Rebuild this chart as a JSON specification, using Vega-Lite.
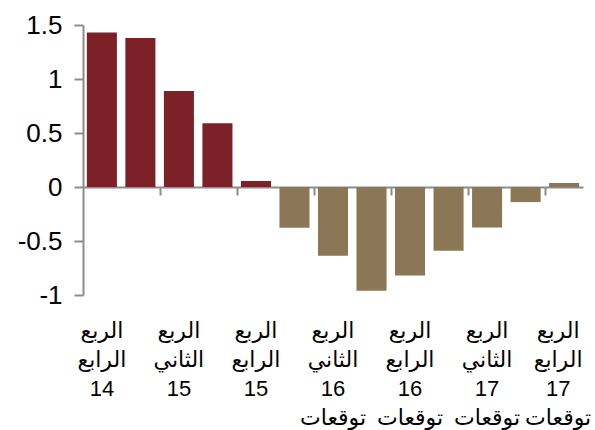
{
  "$schema": "https://vega.github.io/schema/vega-lite/v6.json",
  "width": 500,
  "height": 270,
  "autosize": "none",
  "padding": {"left": 83, "top": 25, "right": 12, "bottom": 135},
  "background": "white",
  "config": {
    "view": {"stroke": null},
    "font": "Liberation Sans, Arial, DejaVu Sans, sans-serif"
  },
  "data": {
    "values": [
      {"period": "الربع|الرابع|14", "value": 1.43, "type": "actual"},
      {"period": "الربع|الأول|15", "value": 1.38, "type": "actual"},
      {"period": "الربع|الثاني|15", "value": 0.89, "type": "actual"},
      {"period": "الربع|الثالث|15", "value": 0.59, "type": "actual"},
      {"period": "الربع|الرابع|15", "value": 0.056, "type": "actual"},
      {"period": "الربع|الأول|16|توقعات", "value": -0.377, "type": "forecast"},
      {"period": "الربع|الثاني|16|توقعات", "value": -0.636, "type": "forecast"},
      {"period": "الربع|الثالث|16|توقعات", "value": -0.96, "type": "forecast"},
      {"period": "الربع|الرابع|16|توقعات", "value": -0.82, "type": "forecast"},
      {"period": "الربع|الأول|17|توقعات", "value": -0.59, "type": "forecast"},
      {"period": "الربع|الثاني|17|توقعات", "value": -0.375, "type": "forecast"},
      {"period": "الربع|الثالث|17|توقعات", "value": -0.14, "type": "forecast"},
      {"period": "الربع|الرابع|17|توقعات", "value": 0.037, "type": "forecast"}
    ]
  },
  "resolve": {"axis": {"x": "independent"}},
  "layer": [
    {
      "mark": {"type": "bar", "opacity": 0},
      "encoding": {
        "x": {
          "field": "period",
          "type": "nominal",
          "sort": null,
          "scale": {"paddingInner": 0.22, "paddingOuter": 0.1},
          "axis": {
            "title": null,
            "orient": "bottom",
            "offset": -108,
            "values": ["الربع|الثاني|15", "الربع|الرابع|15", "الربع|الثاني|16|توقعات", "الربع|الرابع|16|توقعات", "الربع|الثاني|17|توقعات", "الربع|الرابع|17|توقعات"],
            "bandPosition": 0,
            "tickOffset": -4,
            "labels": false,
            "domainColor": "#8c8c8c",
            "domainWidth": 2,
            "tickColor": "#8c8c8c",
            "tickWidth": 2,
            "tickSize": 8,
            "grid": false
          }
        },
        "y": {
          "field": "value",
          "type": "quantitative",
          "scale": {"domain": [-1, 1.5], "nice": false, "zero": false},
          "axis": {
            "title": null,
            "values": [-1, -0.5, 0, 0.5, 1, 1.5],
            "labelExpr": "'' + datum.value",
            "labelFontSize": 26,
            "labelColor": "#000000",
            "labelPadding": 12,
            "domainColor": "#8c8c8c",
            "domainWidth": 2,
            "tickColor": "#8c8c8c",
            "tickWidth": 2,
            "tickSize": 9,
            "grid": false
          }
        }
      }
    },
    {
      "mark": {"type": "bar"},
      "encoding": {
        "x": {
          "field": "period",
          "type": "nominal",
          "sort": null,
          "axis": {
            "title": null,
            "orient": "bottom",
            "values": ["الربع|الرابع|14", "الربع|الثاني|15", "الربع|الرابع|15", "الربع|الثاني|16|توقعات", "الربع|الرابع|16|توقعات", "الربع|الثاني|17|توقعات", "الربع|الرابع|17|توقعات"],
            "labelExpr": "split(datum.label, '|')",
            "labelAngle": 0,
            "labelFontSize": 22,
            "labelColor": "#000000",
            "labelLineHeight": 29,
            "labelPadding": 25,
            "labelOffset": {"condition": {"test": "datum.value == 'الربع|الرابع|17|توقعات'", "value": -6}, "value": 0},
            "labelOverlap": false,
            "labelLimit": 0,
            "labelFlush": false,
            "domain": false,
            "ticks": false,
            "grid": false
          }
        },
        "y": {
          "field": "value",
          "type": "quantitative"
        },
        "color": {
          "field": "type",
          "type": "nominal",
          "scale": {"domain": ["actual", "forecast"], "range": ["#7D2129", "#8B7755"]},
          "legend": null
        }
      }
    }
  ]
}
